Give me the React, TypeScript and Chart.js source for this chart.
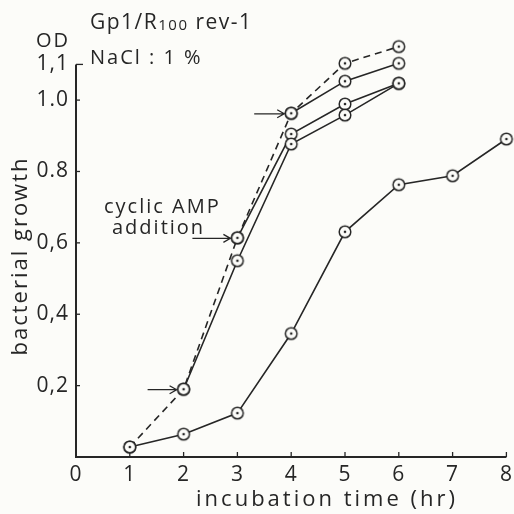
import React, { useEffect, useRef } from "react";
import { Chart, registerables } from "chart.js";

Chart.register(...registerables);

// ---- data ----
const hours = [1, 2, 3, 4, 5, 6, 7, 8];
const control = [0.028, 0.064, 0.123, 0.346, 0.631, 0.763, 0.788, 0.891];
const campAt2hDashed = [0.028, 0.19, 0.614, 0.963, 1.103, 1.15, null, null];
const campBranchA = [null, 0.19, 0.55, 0.877, 0.958, 1.047, null, null];
const campBranchB = [null, null, 0.614, 0.905, 0.989, 1.047, null, null];
const campBranchC = [null, null, null, 0.963, 1.053, 1.103, null, null];

const xTickValues = [0, 1, 2, 3, 4, 5, 6, 7, 8];
const yTickValues = [0.2, 0.4, 0.6, 0.8, 1.0, 1.1];
const yTickLabels = ["0,2", "0,4", "0,6", "0.8", "1.0", "1,1"];
const yAxisTop = 1.1;
const xAxisTitle = "incubation time (hr)";
const yAxisTitle = "bacterial growth";
const strainMain = "Gp1/R";
const strainSub = "100";
const strainRest = " rev-1";
const odLabel = "OD";
const saltLabel = "NaCl : 1 %";
const noteLine1 = "cyclic AMP";
const noteLine2 = "addition";
// arrows pointing at cAMP addition points (hour, OD)
const arrowHours = [2, 3, 4];
const arrowValues = [0.19, 0.614, 0.963];

const INK = "#262626";
const PAPER = "#fcfcf9";
const FONT = '"Open Sans", "DejaVu Sans", sans-serif';

function toPoints(vals: (number | null)[]) {
  const out: { x: number; y: number }[] = [];
  vals.forEach((v, i) => {
    if (v !== null) out.push({ x: hours[i], y: v });
  });
  return out;
}

function makeMarker(): HTMLCanvasElement {
  const c = document.createElement("canvas");
  c.width = 16;
  c.height = 16;
  const g = c.getContext("2d")!;
  g.beginPath();
  g.arc(8, 8, 5.8, 0, Math.PI * 2);
  g.fillStyle = PAPER;
  g.fill();
  g.lineWidth = 1.5;
  g.strokeStyle = INK;
  g.stroke();
  g.beginPath();
  g.arc(8, 8, 1.3, 0, Math.PI * 2);
  g.fillStyle = INK;
  g.fill();
  return c;
}

const decorPlugin = {
  id: "decor",
  beforeDraw(chart: any) {
    const ctx = chart.ctx;
    ctx.save();
    ctx.fillStyle = PAPER;
    ctx.fillRect(0, 0, chart.width, chart.height);
    ctx.restore();
    (ctx as any).letterSpacing = "1px";
    // axis lines
    const xs = chart.scales.x;
    const ys = chart.scales.y;
    const left = xs.getPixelForValue(0);
    const right = xs.getPixelForValue(8);
    const bottom = ys.getPixelForValue(0);
    const top = ys.getPixelForValue(yAxisTop);
    ctx.save();
    ctx.strokeStyle = INK;
    ctx.lineWidth = 2;
    ctx.beginPath();
    ctx.moveTo(left, top);
    ctx.lineTo(left, bottom);
    ctx.lineTo(right, bottom);
    ctx.stroke();
    ctx.lineWidth = 1.3;
    yTickValues.forEach((v) => {
      const py = ys.getPixelForValue(v);
      ctx.beginPath();
      ctx.moveTo(left, py);
      ctx.lineTo(left + (v === yAxisTop ? 7 : 4), py);
      ctx.stroke();
    });
    xTickValues.forEach((v) => {
      if (v === 0) return;
      const px = xs.getPixelForValue(v);
      ctx.beginPath();
      ctx.moveTo(px, bottom);
      ctx.lineTo(px, bottom - 5);
      ctx.stroke();
    });
    ctx.restore();
  },
  afterDatasetsDraw(chart: any) {
    const ctx = chart.ctx;
    const xs = chart.scales.x;
    const ys = chart.scales.y;
    ctx.save();
    ctx.strokeStyle = INK;
    ctx.fillStyle = INK;
    ctx.lineWidth = 1.3;
    // arrows
    const lens = [29, 38, 30];
    arrowHours.forEach((h, i) => {
      const px = xs.getPixelForValue(h) - 7;
      const py = ys.getPixelForValue(arrowValues[i]) + 0.5;
      ctx.beginPath();
      ctx.moveTo(px - lens[i], py);
      ctx.lineTo(px, py);
      ctx.moveTo(px - 7, py - 4);
      ctx.lineTo(px, py);
      ctx.lineTo(px - 7, py + 4);
      ctx.stroke();
    });
    // texts
    ctx.textBaseline = "alphabetic";
    ctx.textAlign = "left";
    ctx.letterSpacing = "1.5px";
    ctx.font = `21px ${FONT}`;
    let tx = 90;
    ctx.fillText(strainMain, tx, 29);
    tx += ctx.measureText(strainMain).width;
    ctx.font = `15px ${FONT}`;
    ctx.fillText(strainSub, tx, 30);
    tx += ctx.measureText(strainSub).width;
    ctx.font = `21px ${FONT}`;
    ctx.fillText(strainRest, tx, 29);
    ctx.letterSpacing = "2px";
    ctx.textBaseline = "middle";
    ctx.font = `20px ${FONT}`;
    ctx.fillText(odLabel, 36, 41);
    ctx.fillText(saltLabel, 90, 58);
    ctx.fillText(noteLine1, 104, 207);
    ctx.fillText(noteLine2, 112, 228);
    // axis titles
    ctx.font = `22px ${FONT}`;
    ctx.textAlign = "center";
    ctx.letterSpacing = "3px";
    ctx.fillText(xAxisTitle, 327, 500);
    ctx.letterSpacing = "2px";
    ctx.translate(21, 256);
    ctx.rotate(-Math.PI / 2);
    ctx.fillText(yAxisTitle, 0, 0);
    ctx.restore();
  },
};

export default function App() {
  const ref = useRef<HTMLCanvasElement | null>(null);
  useEffect(() => {
    document.body.style.margin = "0";
    document.body.style.background = PAPER;
    const marker = makeMarker();
    const lineBase = {
      borderColor: INK,
      borderWidth: 1.6,
      pointStyle: marker as any,
      pointRadius: 6,
      pointHoverRadius: 6,
      fill: false,
      tension: 0,
      clip: false as any,
    };
    const chart = new Chart(ref.current!, {
      type: "line",
      data: {
        datasets: [
          { ...lineBase, label: "cAMP 2h", data: toPoints(campAt2hDashed), borderDash: [7, 5] },
          { ...lineBase, label: "A", data: toPoints(campBranchA) },
          { ...lineBase, label: "B", data: toPoints(campBranchB) },
          { ...lineBase, label: "C", data: toPoints(campBranchC) },
          { ...lineBase, label: "control", data: toPoints(control) },
        ],
      },
      options: {
        animation: false,
        responsive: false,
        layout: { padding: { left: 0, top: 43, right: 4, bottom: 0 } },
        plugins: { legend: { display: false }, tooltip: { enabled: false } },
        scales: {
          x: {
            type: "linear",
            min: 0,
            max: 8,
            afterBuildTicks: (s: any) => {
              s.ticks = xTickValues.map((v) => ({ value: v }));
            },
            afterFit: (s: any) => {
              s.height = 57;
              s.paddingLeft = 0;
              s.paddingRight = 0;
            },
            grid: { display: false, drawTicks: false },
            border: { display: false },
            ticks: {
              color: INK,
              font: { family: FONT, size: 21 },
              padding: 5,
              maxRotation: 0,
              autoSkip: false,
              callback: (v: any) => String(v),
            },
            title: { display: false },
          },
          y: {
            type: "linear",
            min: 0,
            max: 1.16,
            afterBuildTicks: (s: any) => {
              s.ticks = yTickValues.map((v) => ({ value: v }));
            },
            afterFit: (s: any) => {
              s.width = 76;
              s.paddingTop = 0;
              s.paddingBottom = 0;
            },
            grid: { display: false, drawTicks: false },
            border: { display: false },
            ticks: {
              color: INK,
              font: { family: FONT, size: 21 },
              padding: 7,
              autoSkip: false,
              callback: (v: any) => {
                const i = yTickValues.findIndex((t) => Math.abs(t - Number(v)) < 1e-6);
                return i >= 0 ? yTickLabels[i] : "";
              },
            },
            title: { display: false },
          },
        },
      },
      plugins: [decorPlugin],
    });
    return () => chart.destroy();
  }, []);
  return <canvas ref={ref} width={514} height={514} style={{ display: "block" }} />;
}
